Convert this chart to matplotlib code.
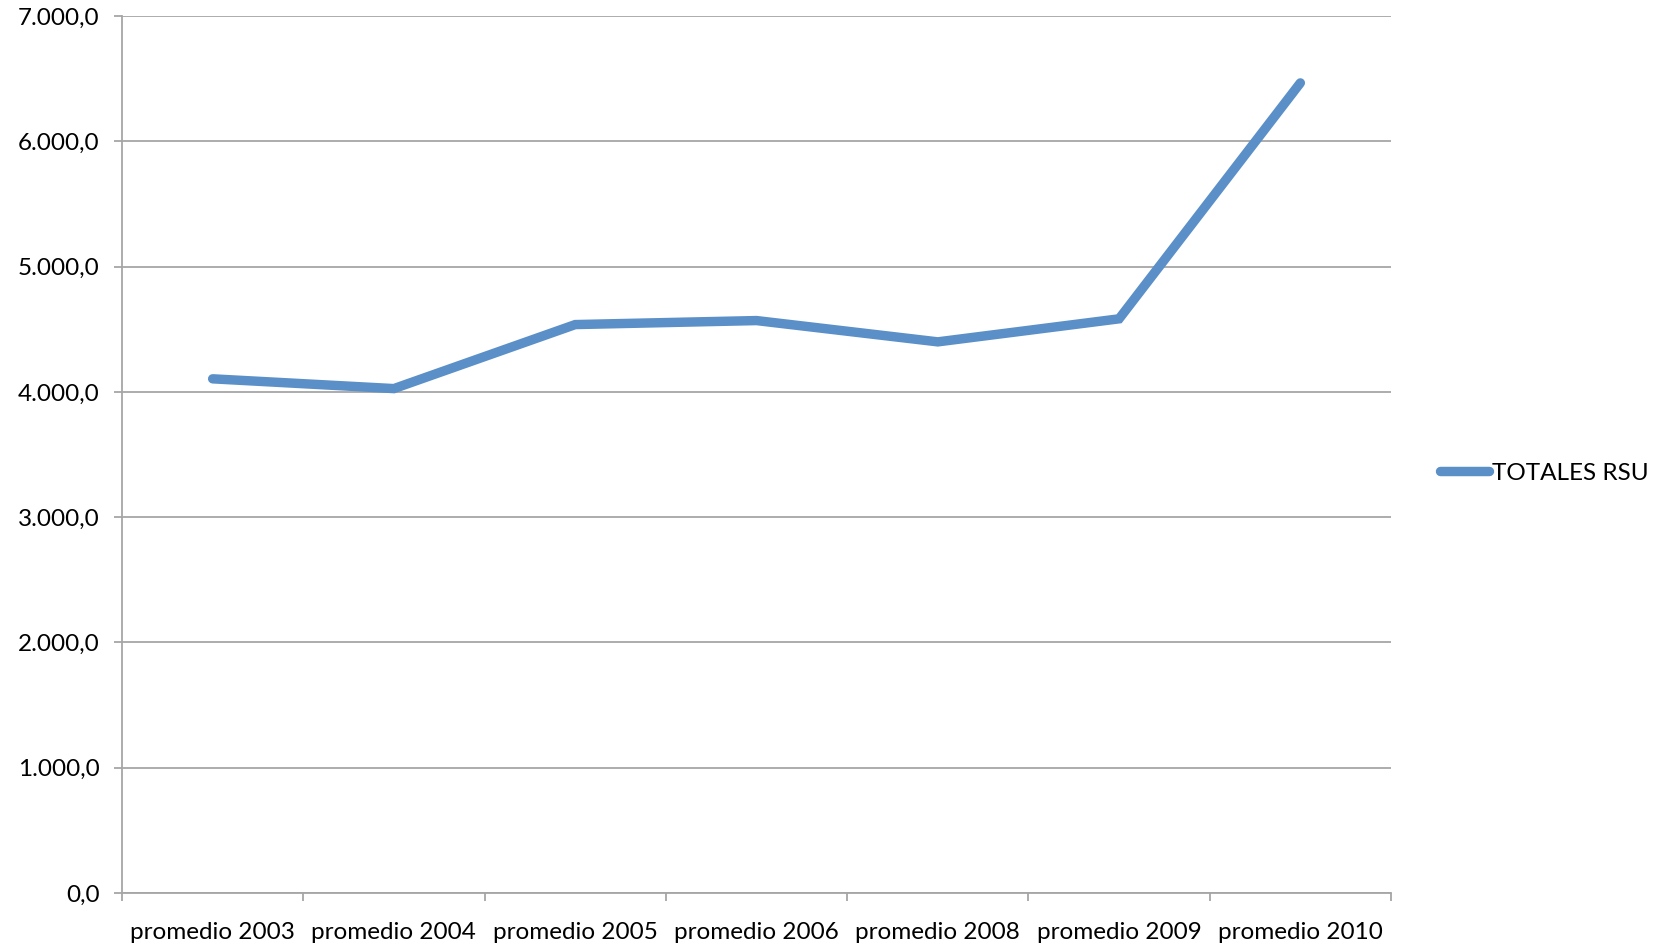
import matplotlib
matplotlib.use("Agg")
import matplotlib.pyplot as plt
from matplotlib.ticker import FuncFormatter, FixedLocator

categories = ["promedio 2003", "promedio 2004", "promedio 2005", "promedio 2006",
              "promedio 2008", "promedio 2009", "promedio 2010"]
totales_rsu = [4104, 4026, 4537, 4569, 4399, 4583, 6466]
series_name = "TOTALES RSU"
y_ticks = [0, 1000, 2000, 3000, 4000, 5000, 6000, 7000]

plt.rcParams['font.family'] = ['Lato', 'DejaVu Sans']
DPI = 100
FS = 17.5
fig = plt.figure(figsize=(16.57, 9.46), dpi=DPI)
ax = fig.add_axes([122/1657, 1-893/946, (1391-122)/1657, (893-16)/946])

color = '#5B8FC7'
x = list(range(len(categories)))
ax.plot(x, totales_rsu, color=color, lw=6.8, solid_capstyle='round',
        solid_joinstyle='miter', label=series_name, zorder=3)

ax.set_xlim(-0.5, len(categories) - 0.5)
ax.set_ylim(0, 7000)

grid_c = '#A6A6A6'
ax.yaxis.set_major_locator(FixedLocator(y_ticks))
def fmt(v, pos):
    s = f"{v:,.1f}"
    return s.replace(",", "X").replace(".", ",").replace("X", ".")
ax.yaxis.set_major_formatter(FuncFormatter(fmt))
ax.grid(axis='y', color=grid_c, lw=1.3, zorder=0)
ax.set_axisbelow(True)

ax.set_xticks(x)
ax.set_xticklabels(categories)
ax.set_xticks([i - 0.5 for i in range(len(categories) + 1)], minor=True)
ax.tick_params(axis='x', which='major', length=0, pad=21, labelsize=FS)
ax.tick_params(axis='x', which='minor', length=6, width=1.3, color=grid_c, direction='out')
ax.tick_params(axis='y', which='major', length=6, width=1.3, color=grid_c, pad=10, labelsize=FS)

for side in ['top', 'right']:
    ax.spines[side].set_visible(False)
for side in ['left', 'bottom']:
    ax.spines[side].set_color(grid_c)
    ax.spines[side].set_linewidth(1.3)

leg = ax.legend(loc='center left', bbox_to_anchor=(1440/1657, 1-473/946),
                bbox_transform=fig.transFigure, frameon=False, fontsize=FS,
                handlelength=2.0, handletextpad=0.15, borderpad=0, borderaxespad=0)

fig.savefig("out.png", dpi=DPI, facecolor='white')
